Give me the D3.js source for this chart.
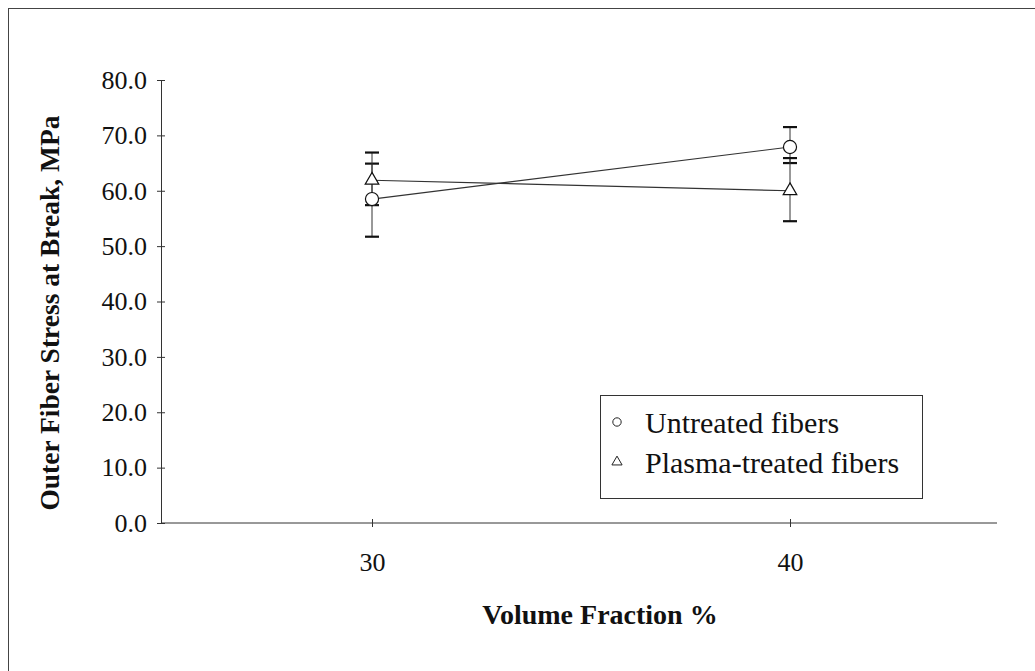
<!DOCTYPE html>
<html>
<head>
<meta charset="utf-8">
<script src="https://cdn.jsdelivr.net/npm/d3@7"></script>
<style>
  body { margin: 0; background: #fff; }
  svg text { font-family: 'Liberation Serif', 'Times New Roman', serif; fill: #111; }
  .axis path, .axis line { stroke: #333; stroke-width: 1; }
</style>
</head>
<body>
<div id="chart"></div>
<script>
// data
var fractions = ['30', '40'];
var untreated = [58.5, 67.9];
var untreatedLo = [51.7, 65.0];
var untreatedHi = [64.9, 71.5];
var plasma = [61.9, 60.0];
var plasmaLo = [57.4, 54.5];
var plasmaHi = [66.9, 65.9];
var yTicks = [0, 10, 20, 30, 40, 50, 60, 70, 80];
var legendLabels = ['Untreated fibers', 'Plasma-treated fibers'];

function drawChart (id) {
  var width = 1035, height = 671;
  var svg = d3.select('#' + id).append('svg')
    .attr('width', width)
    .attr('height', height);

  // outer frame (right and bottom edges are cut off in the original)
  svg.append('rect')
    .attr('x', 8.5).attr('y', 8.5)
    .attr('width', 1100).attr('height', 800)
    .attr('fill', 'none').attr('stroke', '#444').attr('stroke-width', 1);

  var xScale = d3.scalePoint().domain(fractions).range([163, 999]).padding(0.5);
  var yScale = d3.scaleLinear().domain([0, 80]).range([523, 80]);

  // y axis with cross ticks
  var yAxis = svg.append('g').attr('class', 'axis')
    .attr('transform', 'translate(161,0)')
    .call(d3.axisLeft(yScale).tickValues(yTicks).tickFormat(d3.format('.1f')).tickSizeOuter(0).tickSize(4));
  yAxis.selectAll('.tick line').attr('x2', 4).attr('x1', -4);
  yAxis.selectAll('.tick text').attr('x', -14).style('font-size', '26px');

  // x axis
  var xAxis = svg.append('g').attr('class', 'axis')
    .attr('transform', 'translate(0,523)')
    .call(d3.axisBottom(xScale).tickSizeOuter(0).tickSize(4));
  xAxis.select('.domain').attr('d', 'M161,0H997');
  xAxis.selectAll('.tick line').attr('y1', -4).attr('y2', 4);
  xAxis.selectAll('.tick text').attr('y', 30).style('font-size', '26px');

  // axis titles
  svg.append('text')
    .attr('transform', 'translate(59,313) rotate(-90)')
    .attr('text-anchor', 'middle')
    .style('font-size', '27.5px').style('font-weight', 'bold')
    .text('Outer Fiber Stress at Break, MPa');
  svg.append('text')
    .attr('x', 600).attr('y', 624)
    .attr('text-anchor', 'middle')
    .style('font-size', '28px').style('font-weight', 'bold')
    .text('Volume Fraction %');

  var series = [
    {vals: untreated, lo: untreatedLo, hi: untreatedHi, sym: d3.symbolCircle, size: 135},
    {vals: plasma, lo: plasmaLo, hi: plasmaHi, sym: d3.symbolTriangle, size: 80}
  ];

  var line = d3.line()
    .x(function (d, i) { return xScale(fractions[i]); })
    .y(function (d) { return yScale(d); });

  series.forEach(function (s) {
    svg.append('path')
      .attr('d', line(s.vals))
      .attr('fill', 'none').attr('stroke', '#333').attr('stroke-width', 1.2);
  });

  // error bars
  series.forEach(function (s) {
    var g = svg.append('g');
    fractions.forEach(function (f, i) {
      var x = xScale(f);
      g.append('line')
        .attr('x1', x).attr('x2', x)
        .attr('y1', yScale(s.lo[i])).attr('y2', yScale(s.hi[i]))
        .attr('stroke', '#333').attr('stroke-width', 1);
      [s.lo[i], s.hi[i]].forEach(function (v) {
        g.append('line')
          .attr('x1', x - 7).attr('x2', x + 7)
          .attr('y1', yScale(v)).attr('y2', yScale(v))
          .attr('stroke', '#111').attr('stroke-width', 2.2);
      });
    });
  });

  // markers
  series.forEach(function (s) {
    svg.selectAll(null)
      .data(s.vals)
      .enter().append('path')
      .attr('d', d3.symbol().type(s.sym).size(s.size))
      .attr('transform', function (d, i) {
        return 'translate(' + xScale(fractions[i]) + ',' + yScale(d) + ')';
      })
      .attr('fill', '#fff').attr('stroke', '#111').attr('stroke-width', 1.2);
  });

  // legend
  var leg = svg.append('g').attr('transform', 'translate(600,395)');
  leg.append('rect')
    .attr('x', 0.5).attr('y', 0.5).attr('width', 322).attr('height', 103)
    .attr('fill', '#fff').attr('stroke', '#333').attr('stroke-width', 1);
  legendLabels.forEach(function (t, i) {
    var cy = 27 + i * 40;
    leg.append('path')
      .attr('d', d3.symbol().type(i === 0 ? d3.symbolCircle : d3.symbolTriangle).size(i === 0 ? 55 : 45))
      .attr('transform', 'translate(17,' + cy + ')')
      .attr('fill', '#fff').attr('stroke', '#222').attr('stroke-width', 1);
    leg.append('text')
      .attr('x', 45).attr('y', cy)
      .attr('dy', '0.35em')
      .style('font-size', '30px')
      .text(t);
  });
}

window.addEventListener('load', function () {
  drawChart('chart');
});
</script>
</body>
</html>
